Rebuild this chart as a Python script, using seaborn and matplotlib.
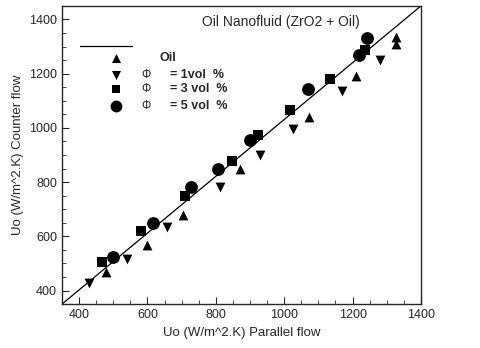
import numpy as np
import pandas as pd
import matplotlib
matplotlib.use('Agg')
import matplotlib.pyplot as plt
import seaborn as sns
from matplotlib.ticker import MultipleLocator

#%% Data
oil_x = [478, 598, 705, 871, 1072, 1211, 1326, 1328]
oil_y = [468, 570, 678, 848, 1040, 1191, 1311, 1335]
phi1_x = [430, 539, 657, 812, 929, 1025, 1169, 1279]
phi1_y = [428, 517, 634, 783, 900, 996, 1137, 1249]
phi3_x = [468, 581, 710, 848, 924, 1016, 1135, 1237]
phi3_y = [507, 619, 749, 879, 975, 1067, 1181, 1289]
phi5_x = [498, 617, 727, 807, 899, 1070, 1218, 1243]
phi5_y = [525, 651, 782, 848, 957, 1142, 1268, 1332]

series = ['Oil', '1', '3', '5']
markers = {'Oil': '^', '1': 'v', '3': 's', '5': 'o'}
msize = {'Oil': 50, '1': 50, '3': 44, '5': 85}

df = pd.concat([
    pd.DataFrame({'par': oil_x, 'cnt': oil_y, 'serie': 'Oil'}),
    pd.DataFrame({'par': phi1_x, 'cnt': phi1_y, 'serie': '1'}),
    pd.DataFrame({'par': phi3_x, 'cnt': phi3_y, 'serie': '3'}),
    pd.DataFrame({'par': phi5_x, 'cnt': phi5_y, 'serie': '5'}),
])

sns.set_style('ticks')
plt.rcParams['font.family'] = ['Liberation Sans', 'DejaVu Sans']

fig = plt.figure(figsize=(4.8, 3.48), dpi=100)
ax = fig.add_axes([0.129, 0.126, 0.748, 0.857])

# diagonal reference
ax.plot([0, 1], [0, 1], transform=ax.transAxes, color='black', lw=0.9, zorder=1)

for s in series:
    sns.scatterplot(x='par', y='cnt', data=df[df.serie == s], marker=markers[s],
                    s=msize[s], color='black', edgecolor='black', linewidth=0,
                    ax=ax, zorder=3, legend=False)

ax.set_xlim(350, 1400)
ax.set_ylim(350, 1450)
ax.xaxis.set_major_locator(MultipleLocator(200))
ax.yaxis.set_major_locator(MultipleLocator(200))
ax.xaxis.set_minor_locator(MultipleLocator(50))
ax.yaxis.set_minor_locator(MultipleLocator(50))
ax.tick_params(which='major', direction='in', length=5, width=0.8, labelsize=9)
ax.tick_params(which='minor', direction='in', length=3, width=0.6)
for sp in ax.spines.values():
    sp.set_linewidth(1.0)

ax.set_xlabel('Uo (W/m^2.K) Parallel flow', fontsize=9.5)
ax.set_ylabel('Uo (W/m^2.K) Counter flow', fontsize=9.5)

ax.text(0.61, 0.945, 'Oil Nanofluid (ZrO2 + Oil)', transform=ax.transAxes,
        ha='center', va='center', fontsize=10)

# hand-made legend
ax.plot([0.05, 0.195], [0.865, 0.865], transform=ax.transAxes, color='black', lw=0.9)
rows = [0.826, 0.768, 0.721, 0.666]
labels = ['Oil', '= 1vol  %', '= 3 vol  %', '= 5 vol  %']
for s, yy, lab in zip(series, rows, labels):
    ax.scatter([0.152], [yy], transform=ax.transAxes, marker=markers[s],
               s=msize[s] * 0.85, color='black', linewidth=0)
    if s == 'Oil':
        ax.text(0.273, yy, lab, transform=ax.transAxes, ha='left', va='center',
                fontsize=9, fontweight='bold')
    else:
        ax.text(0.22, yy, 'Φ', transform=ax.transAxes, ha='left', va='center',
                fontsize=8.5)
        ax.text(0.3, yy, lab, transform=ax.transAxes, ha='left', va='center',
                fontsize=9, fontweight='bold')

fig.savefig('out.png', dpi=100)
